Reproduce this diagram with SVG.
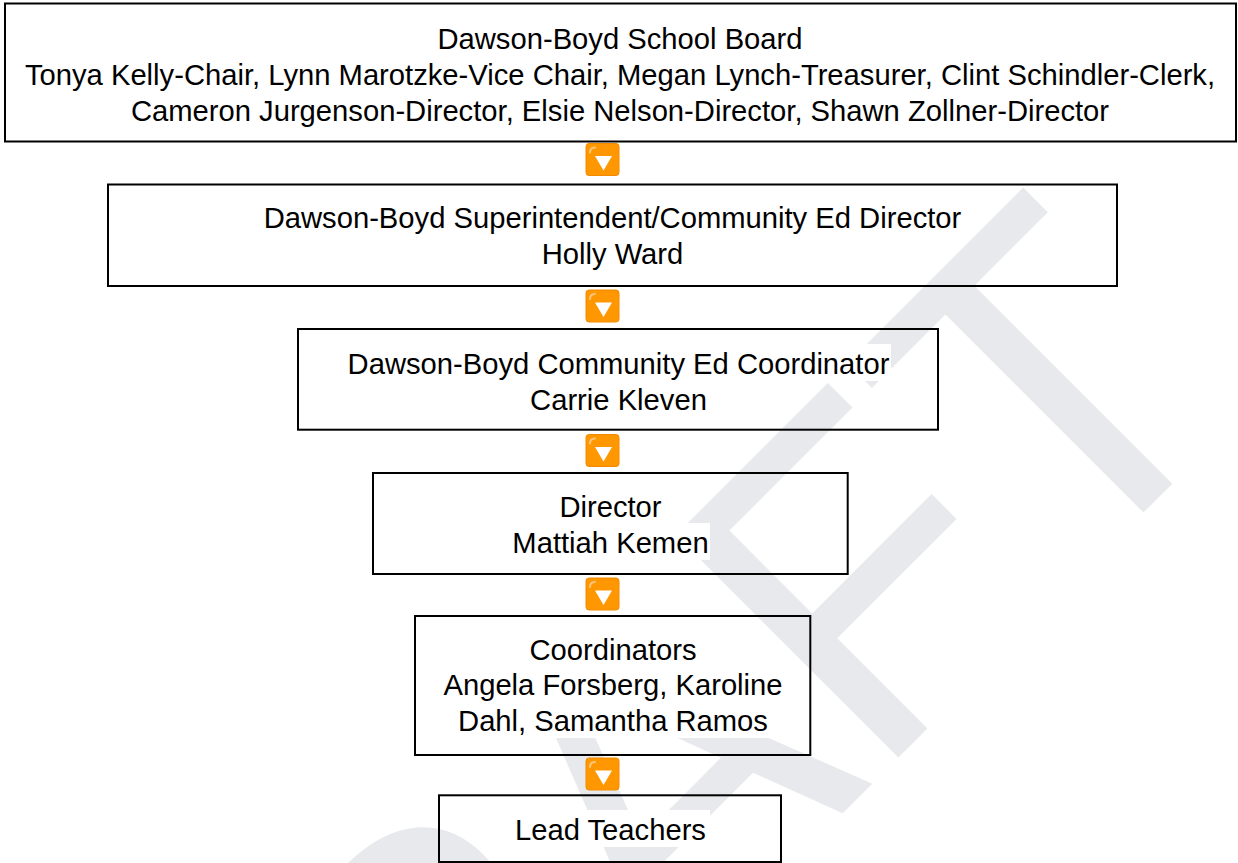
<svg xmlns="http://www.w3.org/2000/svg" width="1238" height="863" viewBox="0 0 1238 863">
<style>
.box{fill:none;stroke:#000;stroke-width:2}
.t{font-family:"Liberation Sans",Arial,sans-serif;font-size:29.2px;fill:#000;text-anchor:middle}
.bg{fill:#fff}
.wm{font-family:"Liberation Sans",Arial,sans-serif;font-size:440px;fill:#e8e9ed}
</style>
<defs>
<g id="icon">
<rect x="0" y="0" width="33" height="32" rx="3" fill="#ff9800" stroke="#f28a00" stroke-width="1"/>
<path d="M4,9 Q4,4 9,4" fill="none" stroke="#ffc680" stroke-width="2" stroke-linecap="round"/>
<polygon points="9,12.5 26,12.5 17.5,27" fill="#fff"/>
</g>
</defs>
<rect width="1238" height="863" fill="#fff"/>
<text class="wm" transform="translate(216,1440) rotate(-45) scale(1,1.04)">DRAFT</text>

<g id="node-board">
<rect class="bg" x="432" y="19" width="376" height="37"/>
<rect class="bg" x="20" y="55" width="1200" height="37"/>
<rect class="bg" x="128" y="91" width="985" height="37"/>
<rect class="box" x="5" y="3.5" width="1231" height="138"/>
<text class="t" x="620" y="49">Dawson-Boyd School Board</text>
<text class="t" x="620" y="85">Tonya Kelly-Chair, Lynn Marotzke-Vice Chair, Megan Lynch-Treasurer, Clint Schindler-Clerk,</text>
<text class="t" x="620" y="121">Cameron Jurgenson-Director, Elsie Nelson-Director, Shawn Zollner-Director</text>
</g>

<g id="node-superintendent">
<rect class="bg" x="263" y="198" width="699" height="37"/>
<rect class="bg" x="540" y="234" width="145" height="37"/>
<rect class="box" x="108" y="184.5" width="1009" height="101.5"/>
<text class="t" x="612.5" y="228">Dawson-Boyd Superintendent/Community Ed Director</text>
<text class="t" x="612.5" y="264">Holly Ward</text>
</g>

<g id="node-coordinator">
<rect class="bg" x="346" y="344" width="545" height="37"/>
<rect class="bg" x="529" y="380" width="180" height="37"/>
<rect class="box" x="298" y="329" width="640" height="100.7"/>
<text class="t" x="618.5" y="374">Dawson-Boyd Community Ed Coordinator</text>
<text class="t" x="618.5" y="410">Carrie Kleven</text>
</g>

<g id="node-director">
<rect class="bg" x="558" y="487" width="105" height="37"/>
<rect class="bg" x="511" y="523" width="199" height="37"/>
<rect class="box" x="373" y="473" width="474.7" height="101"/>
<text class="t" x="610.5" y="517">Director</text>
<text class="t" x="610.5" y="553">Mattiah Kemen</text>
</g>

<g id="node-coordinators">
<rect class="bg" x="528" y="630" width="170" height="37"/>
<rect class="bg" x="442" y="665" width="342" height="37"/>
<rect class="bg" x="457" y="701" width="312" height="37"/>
<rect class="box" x="415" y="616" width="395.3" height="139"/>
<text class="t" x="613" y="660">Coordinators</text>
<text class="t" x="613" y="695">Angela Forsberg, Karoline</text>
<text class="t" x="613" y="731">Dahl, Samantha Ramos</text>
</g>

<g id="node-lead">
<rect class="bg" x="512" y="810" width="198" height="37"/>
<rect class="box" x="439" y="795.3" width="342" height="66.7"/>
<text class="t" x="610.5" y="840">Lead Teachers</text>
</g>

<g id="connectors">
<use href="#icon" x="586" y="143.5"/>
<use href="#icon" x="586" y="290"/>
<use href="#icon" x="586" y="434.5"/>
<use href="#icon" x="586" y="578"/>
<use href="#icon" x="586" y="758"/>
</g>
</svg>
